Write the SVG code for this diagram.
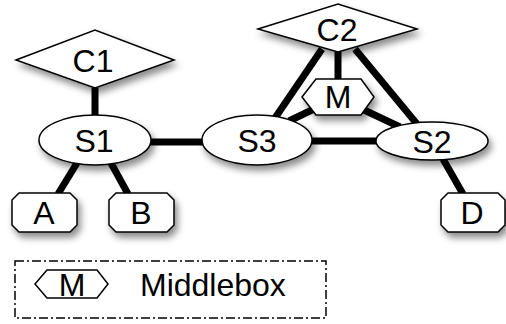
<svg xmlns="http://www.w3.org/2000/svg" width="506" height="324" viewBox="0 0 506 324">
<defs>
<filter id="sh" x="-30%" y="-30%" width="160%" height="180%">
<feDropShadow dx="3" dy="5" stdDeviation="3.5" flood-color="#000" flood-opacity="0.45"/>
</filter>
</defs>
<style>
.n{fill:#fff;stroke:#000;stroke-width:1.5;filter:url(#sh)}
.e{stroke:#000;stroke-width:7;fill:none}
.t{font-family:"Liberation Sans",Arial,sans-serif;font-size:32px;fill:#000;text-anchor:middle}
</style>
<rect width="506" height="324" fill="#fff"/>
<g id="connectors">
<line class="e" x1="95" y1="88" x2="95" y2="116"/>
<line class="e" x1="77" y1="163" x2="58" y2="194"/>
<line class="e" x1="111" y1="163" x2="128" y2="194"/>
<line class="e" x1="150" y1="142" x2="203" y2="142"/>
<line class="e" x1="312" y1="141" x2="378" y2="141"/>
<line class="e" x1="322" y1="49" x2="275" y2="118"/>
<line class="e" x1="338" y1="52" x2="338" y2="80"/>
<line class="e" x1="355" y1="49" x2="417" y2="124"/>
<line class="e" x1="314" y1="109" x2="289" y2="121"/>
<line class="e" x1="362" y1="109" x2="400" y2="127"/>
<line class="e" x1="443" y1="159" x2="463" y2="194"/>
</g>
<g id="C1"><polygon class="n" points="16,60 95,30 174,60 95,88"/><text class="t" x="93" y="72">C1</text></g>
<g id="C2"><polygon class="n" points="258,29 338,4 417,29 338,52"/><text class="t" x="337" y="41">C2</text></g>
<g id="S1"><ellipse class="n" cx="95" cy="140" rx="56" ry="25"/><text class="t" x="94" y="152">S1</text></g>
<g id="S3"><ellipse class="n" cx="257" cy="140" rx="55" ry="25"/><text class="t" x="257" y="152">S3</text></g>
<g id="S2"><ellipse class="n" cx="432" cy="141" rx="56" ry="19"/><text class="t" x="432" y="153">S2</text></g>
<g id="M"><polygon class="n" points="302,97 316,79 361,79 374,97 361,115 316,115"/><text class="t" x="338" y="108">M</text></g>
<g id="A"><polygon class="n" points="19,193 70,193 77,200 77,225 70,232 19,232 12,225 12,200"/><text class="t" x="44" y="224">A</text></g>
<g id="B"><polygon class="n" points="116,193 167,193 174,200 174,225 167,232 116,232 109,225 109,200"/><text class="t" x="141" y="224">B</text></g>
<g id="D"><polygon class="n" points="448,193 498,193 505,200 505,225 498,232 448,232 441,225 441,200"/><text class="t" x="472" y="224">D</text></g>
<g id="legend">
<rect x="15" y="261" width="311" height="57" fill="none" stroke="#000" stroke-width="1.5" stroke-dasharray="9,3,2,3"/>
<polygon points="35,284 47,270 97,270 108,284 97,298 47,298" fill="#fff" stroke="#000" stroke-width="1.5"/>
<text class="t" x="72" y="296">M</text>
<text class="t" x="140" y="296" style="text-anchor:start">Middlebox</text>
</g>
</svg>
